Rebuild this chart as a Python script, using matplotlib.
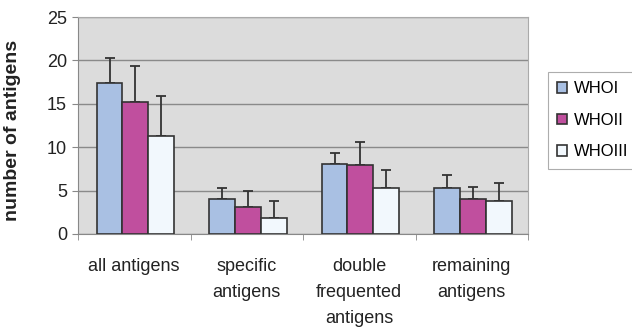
import matplotlib
matplotlib.use("Agg")
import matplotlib.pyplot as plt
import numpy as np

plt.rcParams['font.family'] = ['Liberation Sans', 'DejaVu Sans']

categories = ["all antigens", "specific\nantigens", "double\nfrequented\nantigens", "remaining\nantigens"]
series = ["WHOI", "WHOII", "WHOIII"]
means = {
    "WHOI":   [17.4, 4.0, 8.1, 5.3],
    "WHOII":  [15.2, 3.15, 7.9, 4.0],
    "WHOIII": [11.3, 1.9, 5.25, 3.85],
}
errors = {
    "WHOI":   [2.9, 1.25, 1.25, 1.5],
    "WHOII":  [4.1, 1.75, 2.7, 1.45],
    "WHOIII": [4.6, 1.9, 2.1, 2.05],
}
colors = {"WHOI": "#a9c0e3", "WHOII": "#c04f9e", "WHOIII": "#f2f8fd"}

fig = plt.figure(figsize=(6.32, 3.28), dpi=100)
ax = fig.add_axes([78/632, 1-234/328, 450/632, 217/328])
ax.set_facecolor("#dcdcdc")

x = np.arange(len(categories))
w = 0.23
for i, s in enumerate(series):
    pos = x + (i - 1) * w + 0.01
    ax.bar(pos, means[s], width=w, color=colors[s], edgecolor="#333333",
           linewidth=1.2, label=s, zorder=3,
           yerr=[np.zeros(len(categories)), errors[s]],
           error_kw=dict(ecolor="#333333", elinewidth=1.3, capsize=3.5, capthick=1.3, zorder=2))

ax.set_xlim(-0.5, len(categories) - 0.5)
ax.set_ylim(0, 25)
ax.set_yticks([0, 5, 10, 15, 20, 25])
ax.yaxis.grid(True, color="#8a8a8a", linewidth=1.0, zorder=0)
ax.set_axisbelow(True)

ax.set_xticks(x)
ax.set_xticklabels(categories, fontsize=13, color="#222222", linespacing=1.7)
ax.tick_params(axis='x', length=0, pad=17)
ax.set_xticks(np.arange(-0.5, len(categories)), minor=True)
ax.tick_params(axis='x', which='minor', length=4, color="#888888")
ax.tick_params(axis='y', labelsize=13, length=4, pad=4, color="#888888", labelcolor="#222222")

for sp in ["top", "right"]:
    ax.spines[sp].set_color("#aaaaaa")
for sp in ["left", "bottom"]:
    ax.spines[sp].set_color("#888888")

ax.set_ylabel("number of antigens", fontsize=14, fontweight="bold", color="#222222")
ax.yaxis.set_label_coords(-0.127, 0.475)

leg = fig.legend(loc="upper left", bbox_to_anchor=(548/632, 1-72/328), frameon=True,
                 fontsize=12, handlelength=0.6, handleheight=0.6, handletextpad=0.4,
                 labelspacing=1.0, borderpad=0.55, borderaxespad=0, fancybox=False)
leg.get_frame().set_edgecolor("#999999")
leg.get_frame().set_linewidth(0.8)

fig.savefig("out.png", dpi=100)
